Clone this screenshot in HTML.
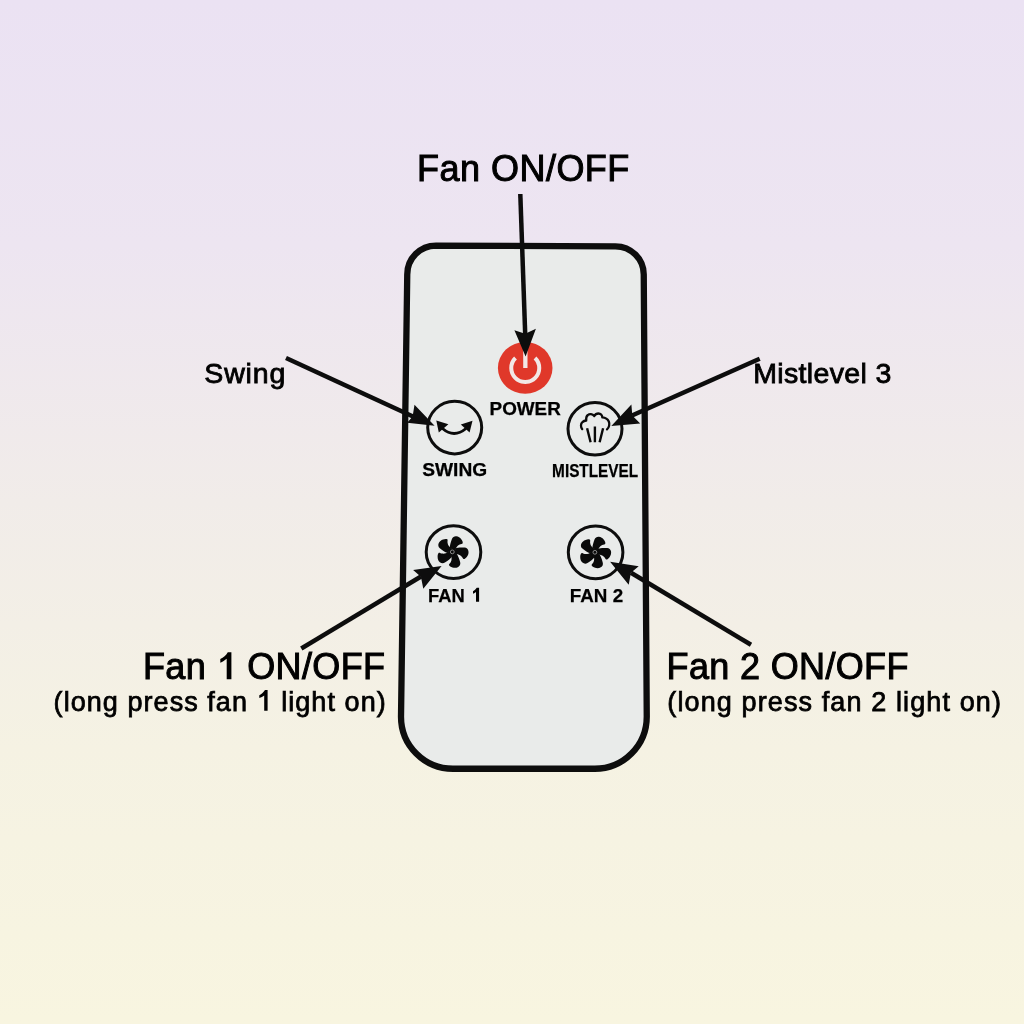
<!DOCTYPE html>
<html><head><meta charset="utf-8">
<style>
html,body{margin:0;padding:0;width:1024px;height:1024px;overflow:hidden;}
body{background:linear-gradient(to bottom,rgb(235,226,243) 0%,rgb(237,229,241) 24%,rgb(241,236,233) 49%,rgb(245,242,227) 73%,rgb(248,245,224) 100%);}
svg{position:absolute;left:0;top:0;display:block;will-change:transform;}
text{font-family:"Liberation Sans",sans-serif;fill:#111;}
.ann text{stroke:#000;stroke-width:1px;fill:#000;}
.lab text{stroke:#000;stroke-width:0.25px;fill:#000;}
</style></head>
<body>
<svg width="1024" height="1024" viewBox="0 0 1024 1024">
<defs>
  <g id="blade"><path d="M3,-3.5 C5,-4.4 8.3,-4.5 12.3,-4.3 C14.2,-4.2 15.7,-2.9 16.1,-1 C16.5,0.9 16,3 14.8,4.6 C13.8,6 12.6,7.2 11.4,7.2 C10.6,7.2 10.2,5.6 9.3,4.7 C8.3,3.7 7.3,3.1 6,2.7 C5,2.4 4,2.3 3,2.5 Z"/></g>
  <g id="fan" fill="#0a0a0a">
    <use href="#blade"/>
    <use href="#blade" transform="rotate(72)"/>
    <use href="#blade" transform="rotate(144)"/>
    <use href="#blade" transform="rotate(216)"/>
    <use href="#blade" transform="rotate(288)"/>
    <circle r="4"/>
    <circle r="1.9" fill="none" stroke="#8a8a8a" stroke-width="1"/>
  </g>
</defs>

<!-- remote body -->
<path d="M436,245.6 L615.5,246.3 C631,246.3 643.75,259 643.75,274.5 L646.75,716.75 C646.75,745.47 623.47,768.75 594.75,768.75 L453,768.75 C424.28,768.75 401,745.47 401,716.75 L407.25,274.5 C407.25,258.5 420,245.6 436,245.6 Z" fill="#e9ebea" stroke="#0d0d0d" stroke-width="6.3"/>

<!-- buttons -->
<ellipse cx="525.2" cy="367.9" rx="27.3" ry="25.9" fill="#e0382a"/>
<path d="M515.5,358 A14,14 0 1 0 535,358" fill="none" stroke="#f2e8e6" stroke-width="4"/>
<rect x="523.2" y="350" width="4.3" height="18" fill="#f2e8e6"/>

<ellipse cx="454.7" cy="427.6" rx="27" ry="26.3" fill="none" stroke="#0d0d0d" stroke-width="3.0"/>
<ellipse cx="595" cy="428.8" rx="27" ry="26.3" fill="none" stroke="#0d0d0d" stroke-width="3.0"/>
<ellipse cx="453.5" cy="552.1" rx="27.3" ry="26.4" fill="none" stroke="#0d0d0d" stroke-width="3.0"/>
<ellipse cx="595.6" cy="552.3" rx="27.3" ry="26.4" fill="none" stroke="#0d0d0d" stroke-width="3.0"/>

<!-- swing icon -->
<path d="M442.5,428.5 Q454,438.5 466,428.5" fill="none" stroke="#0a0a0a" stroke-width="2.9"/>
<path d="M436.3,420.6 L448.4,424.2 L438.8,432.6 Z" fill="#0a0a0a"/>
<path d="M472.5,420.8 L460.8,424.4 L469.6,432.6 Z" fill="#0a0a0a"/>

<!-- mist icon -->
<path d="M582.2,429.1 C580.6,427.6 580.5,423.5 582.4,422.1 C583.4,421.2 584.8,420.6 586.2,420.5 C586,418.5 586.5,416 587.9,415 C589.5,413.6 592.5,413.7 594.3,416 C595.2,414.3 596.8,413.5 598.4,413.5 C600.6,413.5 602.3,415.3 602.3,417.4 C604.5,417.6 607.6,419 608.8,421.5 C609.8,423.8 609.3,427.6 607,429.3" fill="none" stroke="#0a0a0a" stroke-width="2.3" stroke-linecap="round" stroke-linejoin="round"/>
<path d="M587.1,428.3 L590.6,442.2 M594.9,426.4 L594.9,442.2 M603.1,428.3 L599.6,442.2" stroke="#0a0a0a" stroke-width="2.4"/>

<!-- fans -->
<use href="#fan" transform="translate(452.3,551.9)"/>
<use href="#fan" transform="translate(594.9,552.3)"/>

<!-- remote labels -->
<g class="lab">
<text x="489.6" y="414.6" font-size="18.1" font-weight="bold" textLength="71.2" lengthAdjust="spacingAndGlyphs">POWER</text>
<text x="422.2" y="475.8" font-size="18.1" font-weight="bold" textLength="65.0" lengthAdjust="spacingAndGlyphs">SWING</text>
<text x="552.1" y="476.6" font-size="18.4" font-weight="bold" textLength="86.1" lengthAdjust="spacingAndGlyphs">MISTLEVEL</text>
<text x="428.1" y="601.8" font-size="19.1" font-weight="bold" textLength="52.0" lengthAdjust="spacingAndGlyphs">FAN <tspan style="fill:none;stroke:none">1</tspan></text>
<text x="569.8" y="601.9" font-size="19.1" font-weight="bold" textLength="53.3" lengthAdjust="spacingAndGlyphs">FAN 2</text>
</g>

<!-- annotation labels -->
<g class="ann">
<text x="417.1" y="180.9" font-size="36" textLength="212.2" lengthAdjust="spacing">Fan ON/OFF</text>
<text x="204.3" y="382.7" font-size="28.5" style="stroke-width:0.85px" textLength="81" lengthAdjust="spacing">Swing</text>
<text x="753.2" y="382.8" font-size="28.5" style="stroke-width:0.85px" textLength="138.2" lengthAdjust="spacing">Mistlevel 3</text>
<text x="142.9" y="678.7" font-size="36" textLength="242.2" lengthAdjust="spacing">Fan <tspan style="fill:none;stroke:none">1</tspan> ON/OFF</text>
<text x="53.6" y="710.6" font-size="27" style="stroke-width:0.75px" textLength="332.1" lengthAdjust="spacing">(long press fan <tspan style="fill:none;stroke:none">1</tspan> light on)</text>
<text x="666.6" y="678.7" font-size="36" textLength="241.8" lengthAdjust="spacing">Fan 2 ON/OFF</text>
<text x="667.3" y="710.5" font-size="27" style="stroke-width:0.75px" textLength="333.7" lengthAdjust="spacing">(long press fan 2 light on)</text>
</g>

<!-- custom "1" glyphs -->
<g fill="#000">
<path d="M231.4,679.2 L226.7,679.2 L226.7,658.7 C225,660.2 222.5,661.7 220.3,662.8 L220.3,659.1 C223.5,657.6 226,655.3 227.8,652.2 L231.4,652.2 Z"/>
<path d="M267.6,710.7 L264.2,710.7 L264.2,695.4 C262.9,696.4 261.1,697.4 259.3,697.9 L259.3,695.2 C261.7,694 263.6,692.2 265,690 L267.6,690 Z"/>
<path d="M479.1,601.8 L476,601.8 L476,592 C475.2,592.7 474.1,593.3 473,593.7 L473,591.3 C474.5,590.5 475.8,589.3 476.7,587.8 L479.1,587.8 Z"/>
</g>

<!-- arrows -->
<g stroke="#0d0d0d" stroke-width="4.5" fill="none">
  <line x1="520.3" y1="194" x2="525.2" y2="334"/>
  <line x1="286" y1="358" x2="413" y2="416.5"/>
  <line x1="759.7" y1="358.7" x2="632" y2="415.5"/>
  <line x1="301.3" y1="648.5" x2="421" y2="576.5"/>
  <line x1="751" y1="644.8" x2="631" y2="572.8"/>
</g>
<g fill="#0d0d0d">
  <path d="M525.6,356.6 L514.4,330.3 L525.2,333.7 L535.9,328.8 Z"/>
  <path d="M434.6,425.8 L414.5,404.8 L412.6,416.5 L407.2,422.8 Z"/>
  <path d="M611.3,426 L631.4,404.5 L632.3,415.5 L640.2,423.6 Z"/>
  <path d="M441.6,566 L413.1,570.1 L420.9,576.7 L423.3,588.7 Z"/>
  <path d="M610.1,561.8 L638.7,566.2 L630.9,572.8 L628.7,584.8 Z"/>
</g>
</svg>
</body></html>
